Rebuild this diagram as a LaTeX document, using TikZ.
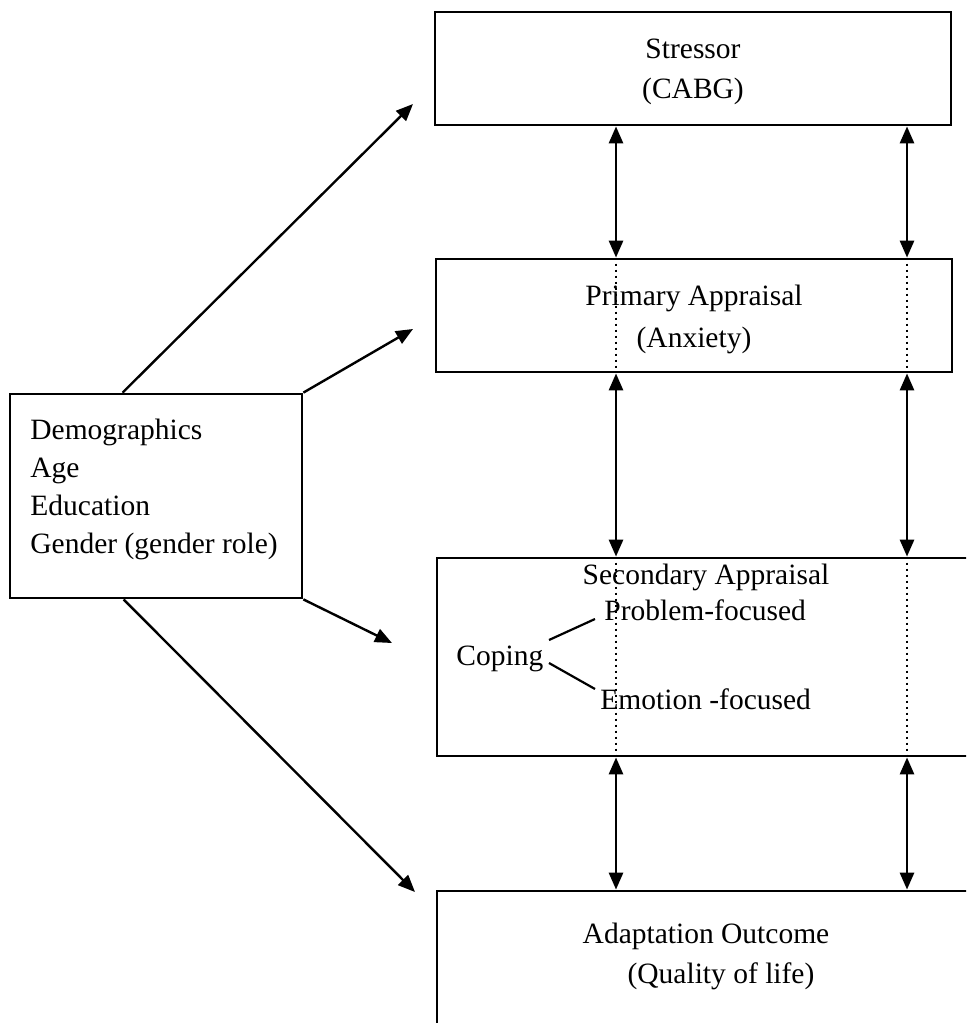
\documentclass[tikz,border=0pt]{standalone}
\usepackage{fontspec}
\setmainfont{Liberation Serif}
\usetikzlibrary{arrows.meta,calc}
\begin{document}
\begin{tikzpicture}[x=0.5pt,y=-0.5pt,
  box/.style={draw,line width=1.4pt,rectangle,inner sep=0pt},
  txt/.style={font=\fontsize{14.75pt}{19pt}\selectfont,inner sep=0pt,anchor=base},
  ltxt/.style={txt,anchor=base west},
  tip/.tip={Triangle[length=8.5pt,width=7pt]},
  link/.style={line width=1.2pt,-tip},
  dbl/.style={line width=1.4pt,tip-tip},
  guide/.style={dotted,line width=1pt},
  branch/.style={line width=1.1pt}]
\useasboundingbox (0,0) rectangle (966,1023);
\clip (0,0) rectangle (966,1023);

% boxes
\node[box,minimum width=258pt,minimum height=56.5pt] (stressor) at (693,68.5) {};
\node[box,minimum width=258pt,minimum height=56.5pt] (primary) at (694,315.5) {};
\node[box,minimum width=274pt,minimum height=99pt] (secondary) at (711,657) {};
\node[box,minimum width=274pt,minimum height=84.5pt] (adapt) at (711,975.5) {};
\node[box,minimum width=146pt,minimum height=102pt] (demo) at (156,496) {};

% texts
\node[txt] (tStress) at (693,58) {Stressor};
\node[txt] (tCabg) at (693,98) {(CABG)};
\node[txt] (tPrim) at (694,305) {Primary Appraisal};
\node[txt] (tAnx) at (694,347) {(Anxiety)};
\node[txt] (tSec) at (706,584) {Secondary Appraisal};
\node[ltxt] (tProb) at (604,620) {Problem-focused};
\node[ltxt] (tCop) at (456,665) {Coping};
\node[ltxt] (tEmo) at (600,709) {Emotion -focused};
\node[txt] (tAdapt) at (706,943) {Adaptation Outcome};
\node[txt] (tQual) at (721,983) {(Quality of life)};
\node[ltxt] (tDemo) at (30,439) {Demographics};
\node[ltxt] (tAge) at (30,477) {Age};
\node[ltxt] (tEdu) at (30,515) {Education};
\node[ltxt] (tGen) at (30,553) {Gender (gender role)};

% coping branches
\coordinate (cA) at (549,640);
\coordinate (cB) at (595,619);
\coordinate (cC) at (549,663);
\coordinate (cD) at (595,689);
\draw[branch] (cA) -- (cB);
\draw[branch] (cC) -- (cD);

% columns
\coordinate (colL) at (616,0);
\coordinate (colR) at (907,0);
\foreach \c in {colL,colR} {
  \draw[guide] (primary.north -| \c) -- (primary.south -| \c);
  \draw[guide] (secondary.north -| \c) -- (secondary.south -| \c);
  \draw[dbl] (stressor.south -| \c) -- (primary.north -| \c);
  \draw[dbl] (primary.south -| \c) -- (secondary.north -| \c);
  \draw[dbl] (secondary.south -| \c) -- (adapt.north -| \c);
}

% demographic influences
\coordinate (t1) at (413,104);
\coordinate (t2) at (413,329);
\coordinate (t3) at (392,643);
\coordinate (t4) at (415,892);
\draw[link] ([xshift=57pt]demo.north west) -- (t1);
\draw[link] (demo.north east) -- (t2);
\draw[link] (demo.south east) -- (t3);
\draw[link] ([xshift=57.5pt]demo.south west) -- (t4);
\end{tikzpicture}
\end{document}
